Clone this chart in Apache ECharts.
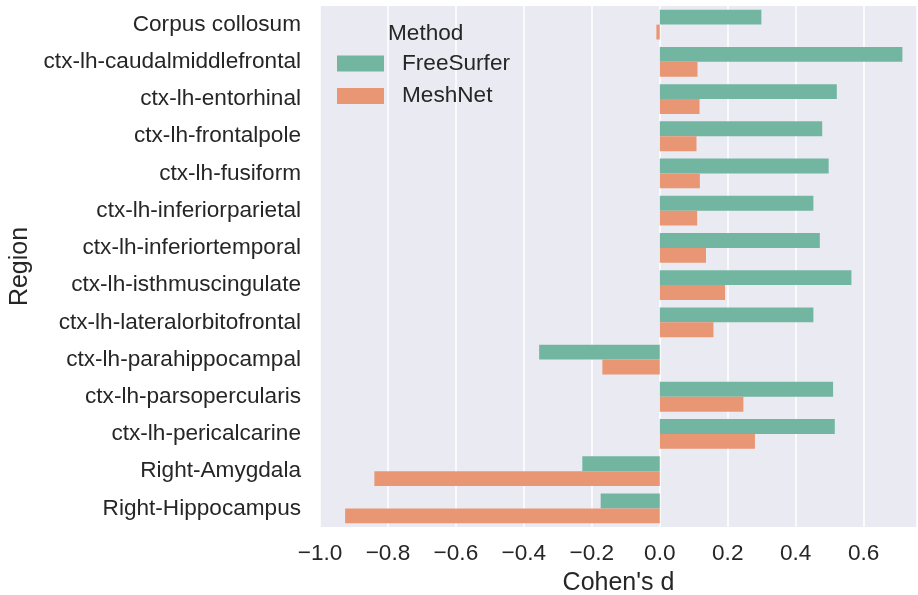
<!DOCTYPE html>
<html>
<head>
<meta charset="utf-8">
<script src="https://cdn.jsdelivr.net/npm/echarts@6/dist/echarts.min.js"></script>
<style>
html,body{margin:0;padding:0;background:#fff;}
#chart{width:918px;height:595px;}
</style>
</head>
<body>
<div id="chart"></div>
<script>
const regions = [
  "Corpus collosum",
  "ctx-lh-caudalmiddlefrontal",
  "ctx-lh-entorhinal",
  "ctx-lh-frontalpole",
  "ctx-lh-fusiform",
  "ctx-lh-inferiorparietal",
  "ctx-lh-inferiortemporal",
  "ctx-lh-isthmuscingulate",
  "ctx-lh-lateralorbitofrontal",
  "ctx-lh-parahippocampal",
  "ctx-lh-parsopercularis",
  "ctx-lh-pericalcarine",
  "Right-Amygdala",
  "Right-Hippocampus"
];
const freeSurfer = [0.299, 0.714, 0.521, 0.478, 0.497, 0.452, 0.471, 0.564, 0.452, -0.355, 0.510, 0.515, -0.228, -0.174];
const meshNet    = [-0.01, 0.111, 0.117, 0.108, 0.118, 0.110, 0.136, 0.192, 0.158, -0.169, 0.246, 0.280, -0.840, -0.926];
const seriesNames = ["FreeSurfer", "MeshNet"];
const legendTitle = "Method";
const xTitle = "Cohen's d";
const yTitle = "Region";

const FONT = "'Liberation Sans', Arial, sans-serif";
const TXT = "#262626";
const FS = 22.6;
const chart = echarts.init(document.getElementById('chart'));
chart.setOption({
  animation: false,
  backgroundColor: '#ffffff',
  textStyle: { fontFamily: FONT },
  grid: { left: 320, right: 1, top: 6, bottom: 68, show: true, backgroundColor: '#EAEAF2', borderWidth: 0,
          containLabel: false, outerBoundsMode: 'none' },
  legend: {
    data: seriesNames,
    orient: 'vertical',
    left: 337, top: 52, padding: 0,
    itemWidth: 47, itemHeight: 16, itemGap: 9.5,
    icon: 'rect',
    textStyle: { fontFamily: FONT, fontSize: FS, color: TXT, padding: [0,0,0,13] }
  },
  graphic: [{
    type: 'text', left: 388, top: 22, z: 100,
    style: { text: legendTitle, font: FS + "px " + FONT, fill: TXT }
  }],
  xAxis: {
    type: 'value', min: -1, max: 0.757, interval: 0.2,
    name: xTitle, nameLocation: 'middle', nameGap: 44,
    nameTextStyle: { fontFamily: FONT, fontSize: 25, color: TXT },
    axisLine: { show: false }, axisTick: { show: false },
    axisLabel: {
      showMaxLabel: false, margin: 15, fontSize: FS, color: TXT, fontFamily: FONT,
      formatter: v => v.toFixed(1).replace('-', '\u2212')
    },
    splitLine: { show: true, lineStyle: { color: '#ffffff', width: 1.5 } }
  },
  yAxis: {
    type: 'category', data: regions, inverse: true,
    name: yTitle, nameLocation: 'middle', nameGap: 287, nameRotate: 90,
    nameTextStyle: { fontFamily: FONT, fontSize: 25, color: TXT },
    axisLine: { show: false }, axisTick: { show: false },
    axisLabel: { margin: 19, fontSize: FS, color: TXT, fontFamily: FONT },
    splitLine: { show: false }
  },
  series: [
    { name: seriesNames[0], type: 'bar', data: freeSurfer, barGap: '0%', barCategoryGap: '20%', itemStyle: { color: '#72b6a1' } },
    { name: seriesNames[1], type: 'bar', data: meshNet, barGap: '0%', barCategoryGap: '20%', itemStyle: { color: '#e99675' } }
  ]
});
</script>
</body>
</html>
